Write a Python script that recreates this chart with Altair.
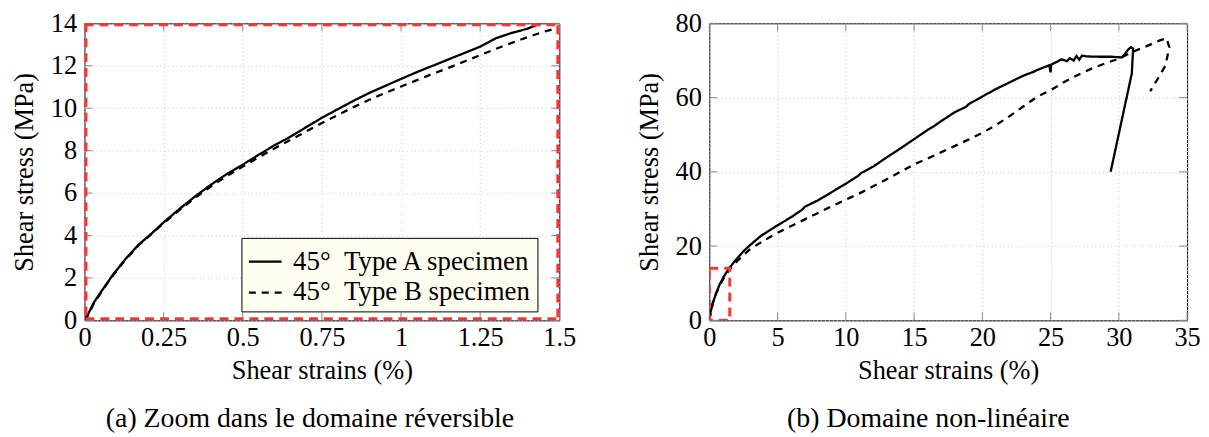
import altair as alt
import pandas as pd

FONT = "Liberation Serif"
FS = 26.5

series_names = ["45°\u2002Type A specimen", "45°\u2002Type B specimen"]

# ---- Left panel: zoom in reversible domain ----
left_a_strain = [0, 0.01, 0.03, 0.055, 0.09, 0.13, 0.17, 0.22, 0.25, 0.3, 0.35, 0.4, 0.45, 0.5,
                 0.55, 0.6, 0.65, 0.7, 0.75, 0.8, 0.85, 0.9, 0.95, 1.0, 1.05, 1.1, 1.15, 1.2,
                 1.25, 1.3, 1.35, 1.4, 1.44]
left_a_stress = [0, 0.25, 0.85, 1.4, 2.15, 2.9, 3.55, 4.2, 4.62, 5.25, 5.85, 6.4, 6.9, 7.34,
                 7.8, 8.25, 8.65, 9.1, 9.55, 9.95, 10.35, 10.72, 11.05, 11.38, 11.7, 12.0, 12.3, 12.6,
                 12.9, 13.3, 13.55, 13.75, 14.0]
left_b_strain = [0, 0.01, 0.03, 0.055, 0.09, 0.13, 0.17, 0.22, 0.25, 0.3, 0.35, 0.4, 0.45, 0.5,
                 0.55, 0.6, 0.65, 0.7, 0.75, 0.8, 0.85, 0.9, 0.95, 1.0, 1.05, 1.1, 1.15, 1.2,
                 1.25, 1.3, 1.35, 1.4, 1.45, 1.48]
left_b_stress = [0, 0.2, 0.8, 1.38, 2.12, 2.87, 3.52, 4.17, 4.58, 5.2, 5.78, 6.32, 6.8, 7.25,
                 7.68, 8.1, 8.5, 8.9, 9.3, 9.68, 10.05, 10.4, 10.72, 11.02, 11.32, 11.62, 11.9, 12.2,
                 12.5, 12.8, 13.08, 13.35, 13.6, 13.72]

# ---- Right panel: non-linear domain ----
right_a_strain = [0, 0.1, 0.25, 0.5, 0.75, 1.0, 1.44, 2.0, 2.5, 3.0, 3.8, 5.0, 6.0, 6.8, 7.0, 8.0,
                  9.0, 10.0, 10.9, 11.1, 12.0, 13.0, 14.0, 15.0, 16.0, 16.5, 17.0, 18.0, 18.8, 19.0,
                  20.0, 21.0, 22.0, 23.0, 23.8, 24.0, 24.9, 25.0, 25.05, 25.5, 25.8, 26.2, 26.4, 26.7,
                  26.9, 27.1, 27.3, 27.6, 28.5, 29.5, 30.2, 30.4, 30.7, 30.9, 31.05, 31.0, 30.95, 29.4]
right_a_stress = [0, 2.3, 4.6, 7.3, 9.6, 11.4, 14.0, 16.5, 18.6, 20.3, 22.8, 25.6, 27.8, 29.8, 30.6, 32.4,
                  34.6, 36.8, 38.9, 39.6, 41.4, 43.9, 46.3, 48.8, 51.3, 52.4, 53.7, 56.1, 57.5, 58.2,
                  60.3, 62.3, 64.1, 65.9, 67.0, 67.4, 68.7, 66.8, 68.9, 69.7, 70.3, 69.8, 70.6, 70.0,
                  71.2, 70.2, 71.3, 71.1, 71.0, 71.0, 70.8, 71.5, 73.0, 73.6, 73.2, 70.0, 66.5, 40.0]
right_b_strain = [0, 0.25, 0.5, 1.0, 1.48, 2.0, 2.5, 3.0, 4.0, 5.0, 6.0, 7.0, 8.0, 9.0, 10.0, 11.0,
                  12.0, 13.0, 14.0, 15.0, 16.0, 17.0, 18.0, 19.0, 20.0, 21.0, 22.0, 23.0, 24.0, 25.0,
                  26.0, 27.0, 28.0, 29.0, 30.0, 31.0, 32.0, 33.0, 33.5, 33.7, 33.4, 33.0, 32.3]
right_b_stress = [0, 4.58, 7.25, 11.0, 13.7, 15.8, 17.6, 19.2, 21.5, 23.6, 25.4, 27.2, 29.0, 30.8, 32.5, 34.2,
                  36.1, 38.0, 40.0, 42.0, 43.6, 45.3, 47.0, 48.7, 50.5, 52.6, 55.0, 57.6, 60.2, 62.0,
                  64.2, 66.1, 67.8, 69.2, 70.5, 72.3, 73.8, 75.4, 76.0, 73.5, 68.5, 66.0, 61.7]

left_x_ticks = [0, 0.25, 0.5, 0.75, 1, 1.25, 1.5]
left_y_ticks = [0, 2, 4, 6, 8, 10, 12, 14]
right_x_ticks = [0, 5, 10, 15, 20, 25, 30, 35]
right_y_ticks = [0, 20, 40, 60, 80]

zoom_box_strain = [0, 1.5]
zoom_box_stress = [0, 14]

captions = ["(a)  Zoom dans le domaine réversible", "(b)  Domaine non-linéaire"]
x_title = "Shear strains (%)"
y_title = "Shear stress (MPa)"


def make_df(ax, ay, bx, by):
    rows = []
    for i, (x, y) in enumerate(zip(ax, ay)):
        rows.append({"strain": x, "stress": y, "series": series_names[0], "idx": i})
    for i, (x, y) in enumerate(zip(bx, by)):
        rows.append({"strain": x, "stress": y, "series": series_names[1], "idx": i})
    return pd.DataFrame(rows)


def panel(df, xdom, ydom, xt, yt, xfmt, w, h, caption, cap_dx, lx, ly, box_width):
    xs = alt.Scale(domain=xdom, nice=False, zero=False, padding=0)
    ys = alt.Scale(domain=ydom, nice=False, zero=False, padding=0)
    TL = 8
    tick_color = "#8a8a8a"

    lines = alt.Chart(df).mark_line(color="black", strokeWidth=2.3, clip=True).encode(
        x=alt.X("strain:Q", scale=xs,
                axis=alt.Axis(values=xt, format=xfmt, title=x_title, grid=True,
                              titlePadding=7, labelPadding=4, labelFlush=False)),
        y=alt.Y("stress:Q", scale=ys,
                axis=alt.Axis(values=yt, title=y_title, grid=True,
                              titlePadding=12, labelPadding=8, labelFlush=False)),
        strokeDash=alt.StrokeDash(
            "series:N",
            scale=alt.Scale(domain=series_names, range=[[1, 0], [7, 6]]),
            legend=alt.Legend(title=None, orient="none", legendX=lx, legendY=ly,
                              fillColor="#fdfdf0", strokeColor="black", padding=6,
                              symbolType="stroke", symbolSize=1089, symbolStrokeWidth=2.3,
                              symbolStrokeColor="black", labelFont=FONT, labelFontSize=27,
                              labelColor="black", labelOffset=10, rowPadding=0, labelLimit=0)),
        order=alt.Order("idx:Q"),
    )

    xt_df = pd.DataFrame({"v": xt})
    yt_df = pd.DataFrame({"v": yt})
    bottom = alt.Chart(xt_df).mark_rule(color=tick_color, strokeWidth=1).encode(
        x=alt.X("v:Q", scale=xs), y=alt.value(h), y2=alt.value(h - TL))
    top = alt.Chart(xt_df).mark_rule(color=tick_color, strokeWidth=1).encode(
        x=alt.X("v:Q", scale=xs), y=alt.value(0), y2=alt.value(TL))
    left = alt.Chart(yt_df).mark_rule(color=tick_color, strokeWidth=1).encode(
        y=alt.Y("v:Q", scale=ys), x=alt.value(0), x2=alt.value(TL))
    right = alt.Chart(yt_df).mark_rule(color=tick_color, strokeWidth=1).encode(
        y=alt.Y("v:Q", scale=ys), x=alt.value(w), x2=alt.value(w - TL))

    box_df = pd.DataFrame({"x0": [zoom_box_strain[0]], "x1": [zoom_box_strain[1]],
                           "y0": [zoom_box_stress[0]], "y1": [zoom_box_stress[1]]})
    box = alt.Chart(box_df).mark_rect(fillOpacity=0, stroke="#ff3333", strokeWidth=box_width,
                                      strokeDash=[9, 6], clip=True).encode(
        x=alt.X("x0:Q", scale=xs), x2="x1",
        y=alt.Y("y0:Q", scale=ys), y2="y1")

    return alt.layer(lines, bottom, top, left, right, box).properties(
        width=w, height=h,
        title=alt.TitleParams(caption, orient="bottom", anchor="middle", dx=cap_dx,
                              font=FONT, fontSize=28, fontWeight="normal", color="black",
                              offset=21),
    )


df_left = make_df(left_a_strain, left_a_stress, left_b_strain, left_b_stress)
df_right = make_df(right_a_strain, right_a_stress, right_b_strain, right_b_stress)

p1 = panel(df_left, [0, 1.5], [0, 14], left_x_ticks, left_y_ticks, ".2~f", 478, 299,
           captions[0], -12, 158, 216, 6)
p2 = panel(df_right, [0, 35], [0, 80], right_x_ticks, right_y_ticks, "d", 481, 299,
           captions[1], -20, 159, 215, 3)

chart = alt.hconcat(p1, p2, spacing=59).properties(
    padding={"left": 3, "top": 0, "right": 0, "bottom": 0}
).configure_view(
    stroke="black", strokeWidth=1
).configure_axis(
    labelFont=FONT, labelFontSize=FS, labelColor="black",
    titleFont=FONT, titleFontSize=FS, titleFontWeight="normal", titleColor="black",
    domain=False, ticks=False, tickSize=0,
    gridColor="#c4c4c4", gridDash=[1, 3], gridWidth=1,
)

chart.save("out.html", embed_options={"renderer": "svg", "actions": False})
